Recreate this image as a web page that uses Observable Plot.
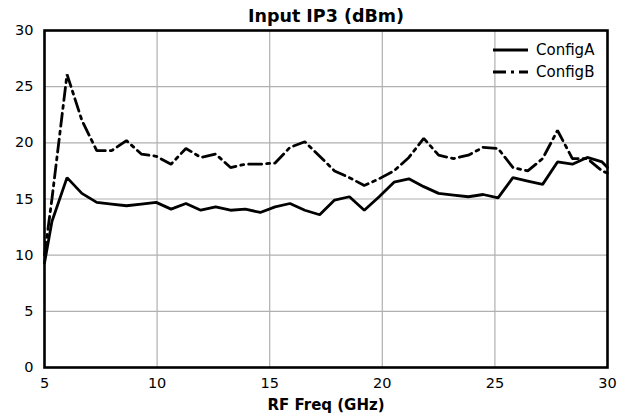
<!DOCTYPE html>
<html>
<head>
<meta charset="utf-8">
<script src="https://cdn.jsdelivr.net/npm/d3@7"></script>
<script src="https://cdn.jsdelivr.net/npm/@observablehq/plot@0.6"></script>
<style>
  html, body { margin: 0; padding: 0; background: #fff; }
  svg { font-family: "DejaVu Sans", sans-serif; }
</style>
</head>
<body>
<div id="chart"></div>
<script>
const title = "Input IP3 (dBm)";
const xLabel = "RF Freq (GHz)";
const seriesNames = ["ConfigA", "ConfigB"];
const freq = [5, 5.33, 6, 6.66, 7.32, 7.98, 8.64, 9.3, 9.96, 10.62, 11.28, 11.94, 12.6, 13.26, 13.92, 14.58, 15.24, 15.9, 16.56, 17.22, 17.88, 18.54, 19.2, 19.86, 20.52, 21.18, 21.84, 22.5, 23.16, 23.82, 24.48, 25.14, 25.8, 26.46, 27.12, 27.78, 28.44, 29.1, 29.76, 30];
const configA = [9.3, 13.0, 16.9, 15.5, 14.7, 14.55, 14.4, 14.55, 14.7, 14.1, 14.6, 14.0, 14.3, 14.0, 14.1, 13.8, 14.3, 14.6, 14.0, 13.6, 14.9, 15.2, 14.0, 15.2, 16.5, 16.8, 16.1, 15.5, 15.35, 15.2, 15.4, 15.1, 16.9, 16.6, 16.3, 18.3, 18.1, 18.7, 18.3, 17.8];
const configB = [10.0, 15.0, 26.1, 22.0, 19.3, 19.3, 20.2, 19.0, 18.8, 18.1, 19.5, 18.7, 19.0, 17.8, 18.1, 18.1, 18.2, 19.6, 20.1, 18.8, 17.5, 16.9, 16.2, 16.8, 17.5, 18.7, 20.4, 18.9, 18.6, 18.9, 19.6, 19.5, 17.8, 17.5, 18.6, 21.1, 18.6, 18.6, 17.5, 17.3];
const xTicks = [5, 10, 15, 20, 25, 30];
const yTicks = [0, 5, 10, 15, 20, 25, 30];

const rows = [];
freq.forEach((f, i) => {
  rows.push({f, v: configA[i], s: seriesNames[0]});
  rows.push({f, v: configB[i], s: seriesNames[1]});
});
const dashes = {ConfigA: null, ConfigB: "13,5,3,5"};

const legendMark = (index, scales, values, dim) => {
  const g = d3.create("svg:g").attr("text-anchor", "start");
  const right = dim.width - dim.marginRight;
  seriesNames.forEach((name, i) => {
    const y = dim.marginTop + 20 + i * 22;
    g.append("line")
      .attr("x1", right - 114).attr("x2", right - 79)
      .attr("y1", y).attr("y2", y)
      .attr("stroke", "black").attr("stroke-width", 2.8)
      .attr("stroke-dasharray", dashes[name]);
    g.append("text")
      .attr("x", right - 71).attr("y", y)
      .attr("dy", "0.35em")
      .attr("font-size", 15)
      .attr("fill", "black")
      .text(name);
  });
  return g.node();
};

const chart = Plot.plot({
  width: 633,
  height: 417,
  marginLeft: 44,
  marginRight: 26,
  marginTop: 30,
  marginBottom: 50,
  style: {fontSize: "14px", fontFamily: "DejaVu Sans, sans-serif", color: "black", background: "white"},
  x: {domain: [5, 30], ticks: xTicks, tickSize: 0, tickPadding: 10, label: null},
  y: {domain: [0, 30], ticks: yTicks, tickSize: 0, tickPadding: 11, label: null},
  marks: [
    Plot.gridX(xTicks, {stroke: "#b0b0b0", strokeOpacity: 1, strokeWidth: 1.2}),
    Plot.gridY(yTicks, {stroke: "#b0b0b0", strokeOpacity: 1, strokeWidth: 1.2}),
    Plot.axisX({ticks: xTicks, tickSize: 0, tickPadding: 10, label: null, fontSize: 14.5}),
    Plot.axisY({ticks: yTicks, tickSize: 0, tickPadding: 11, label: null, fontSize: 14.5}),
    Plot.line(rows.filter(d => d.s === "ConfigA"), {x: "f", y: "v", stroke: "black", strokeWidth: 2.8, strokeLinejoin: "miter"}),
    Plot.line(rows.filter(d => d.s === "ConfigB"), {x: "f", y: "v", stroke: "black", strokeWidth: 2.8, strokeDasharray: dashes.ConfigB, strokeLinejoin: "miter"}),
    Plot.frame({stroke: "black", strokeWidth: 2.6}),
    Plot.text([title], {frameAnchor: "top", dy: -9, fontSize: 17.5, fontWeight: "bold", fill: "black", lineAnchor: "bottom"}),
    Plot.text([xLabel], {frameAnchor: "bottom", dy: 42, fontSize: 15, fontWeight: "bold", fill: "black"}),
    legendMark
  ]
});
document.getElementById("chart").appendChild(chart);
</script>
</body>
</html>
